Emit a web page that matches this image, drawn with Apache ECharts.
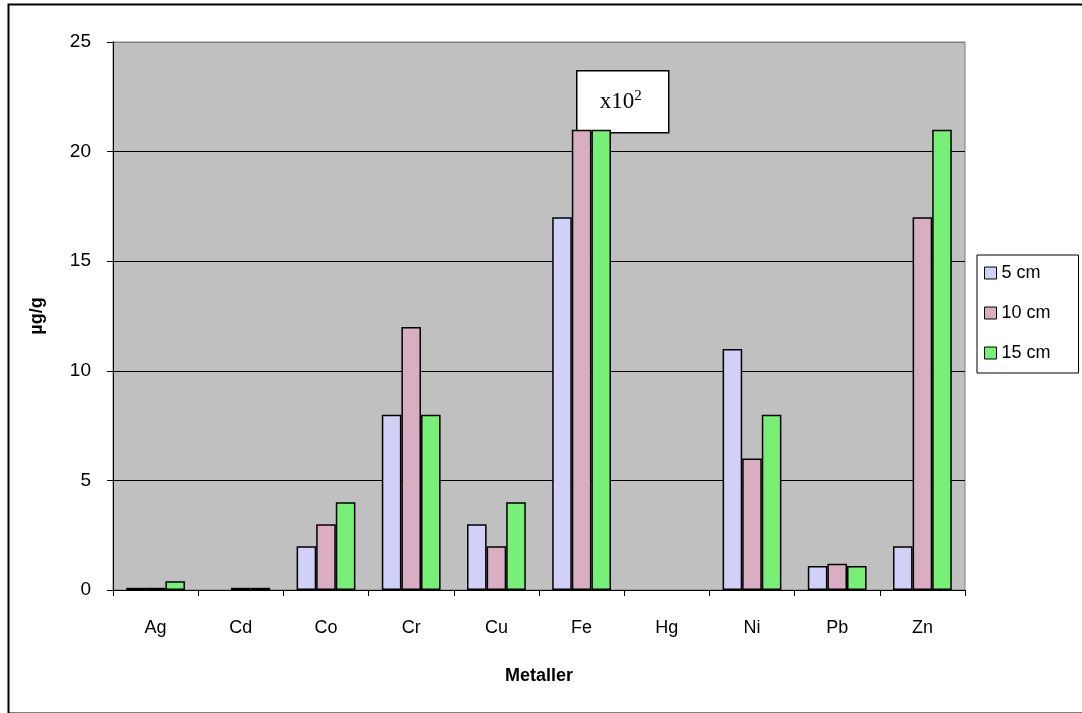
<!DOCTYPE html>
<html>
<head>
<meta charset="utf-8">
<script src="https://cdn.jsdelivr.net/npm/echarts@6/dist/echarts.min.js"></script>
<style>html,body{margin:0;padding:0;background:#fff}#c{width:1082px;height:713px}</style>
</head>
<body>
<div id="c"></div>
<script>
const categories = ['Ag','Cd','Co','Cr','Cu','Fe','Hg','Ni','Pb','Zn'];
const s5 = [0.1, 0, 2, 8, 3, 17, 0, 11, 1.1, 2];
const s10 = [0.1, 0.1, 3, 12, 2, 21, 0, 6, 1.2, 17];
const s15 = [0.4, 0.1, 4, 8, 4, 21, 0, 8, 1.1, 21];
const seriesNames = ['5 cm', '10 cm', '15 cm'];
const yTicks = [0, 5, 10, 15, 20, 25];

const font = 'Liberation Sans, Arial, sans-serif';
const colors = ['#d0d0f8', '#d9aec2', '#78f078'];
const chart = echarts.init(document.getElementById('c'), null, {renderer: 'canvas'});
const mk = (name, data, i) => ({
  name, type: 'bar', data: data.map(v => v === 0 ? '-' : v),
  barGap: '0%', barCategoryGap: '31%',
  itemStyle: {color: colors[i], borderColor: '#000', borderWidth: 1.5},
  emphasis: {disabled: true}
});
chart.setOption({
  animation: false,
  backgroundColor: '#fff',
  grid: {left: 113, right: 117, top: 42, bottom: 123, show: true, backgroundColor: '#c0c0c0', borderColor: '#808080', borderWidth: 1},
  legend: {
    orient: 'vertical', left: 977, top: 255,
    data: seriesNames,
    backgroundColor: '#fff', borderColor: '#000', borderWidth: 1,
    padding: [9, 28, 11, 7], itemGap: 22, itemWidth: 12, itemHeight: 12,
    icon: 'rect',
    itemStyle: {borderColor: '#000', borderWidth: 1},
    textStyle: {fontFamily: font, fontSize: 18, color: '#000'}
  },
  xAxis: {
    type: 'category', data: categories,
    axisLine: {lineStyle: {color: '#000', width: 1}},
    axisTick: {show: true, length: 6, lineStyle: {color: '#000'}},
    axisLabel: {fontFamily: font, fontSize: 18, color: '#000', margin: 29},
    name: 'Metaller', nameLocation: 'middle', nameGap: 77,
    nameTextStyle: {fontFamily: font, fontSize: 18, fontWeight: 'bold', color: '#000'}
  },
  yAxis: {
    type: 'value', min: yTicks[0], max: yTicks[yTicks.length - 1], interval: 5,
    axisLine: {show: true, lineStyle: {color: '#000', width: 1}},
    axisTick: {show: true, length: 6, lineStyle: {color: '#000'}},
    axisLabel: {fontFamily: font, fontSize: 19, color: '#000', margin: 22},
    splitLine: {show: true, lineStyle: {color: ['#000', '#000', '#000', '#000', '#000', '#808080'], width: 1}},
    name: 'µg/g', nameLocation: 'middle', nameGap: 67, nameRotate: 90,
    nameTextStyle: {fontFamily: font, fontSize: 18, fontWeight: 'bold', color: '#000'}
  },
  series: [mk(seriesNames[0], s5, 0), mk(seriesNames[1], s10, 1), mk(seriesNames[2], s15, 2)],
  graphic: [
    {type: 'rect', left: 6, top: 2, shape: {width: 1100, height: 709}, style: {fill: 'none', stroke: '#000', lineWidth: 2}, silent: true},
    {type: 'group', left: 576, top: 70, z: 100, children: [
      {type: 'rect', shape: {x: 0, y: 0, width: 92, height: 62}, style: {fill: '#fff', stroke: '#000', lineWidth: 1.5}},
      {type: 'text', x: 44, y: 31, style: {
        text: '{b|x10}{s|2}', align: 'center', verticalAlign: 'middle',
        rich: {
          b: {fontFamily: 'Liberation Serif, Times New Roman, serif', fontSize: 23, color: '#000'},
          s: {fontFamily: 'Liberation Serif, Times New Roman, serif', fontSize: 15, color: '#000', verticalAlign: 'top', padding: [0, 0, 12, 0]}
        }
      }}
    ]}
  ]
});
</script>
</body>
</html>
